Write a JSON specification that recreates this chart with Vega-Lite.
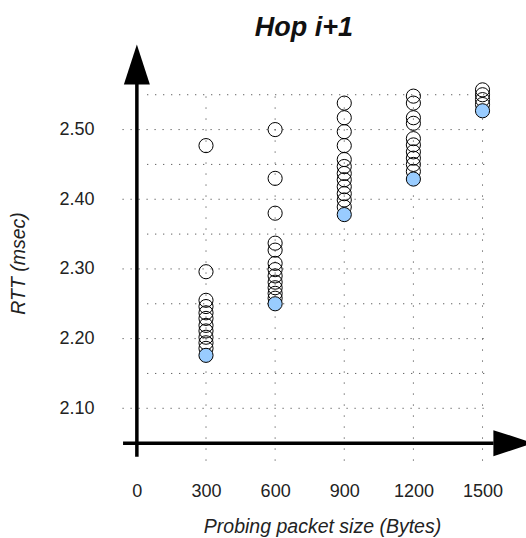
{
  "$schema": "https://vega.github.io/schema/vega-lite/v6.json",
  "width": 424,
  "height": 432,
  "autosize": {"type": "none"},
  "padding": {"left": 100, "top": 39, "right": 2, "bottom": 67},
  "title": {
    "text": "Hop i+1",
    "font": "Liberation Sans",
    "fontSize": 27,
    "fontWeight": "bold",
    "fontStyle": "italic",
    "color": "#111",
    "anchor": "middle",
    "frame": "group",
    "baseline": "alphabetic",
    "offset": -24,
    "dx": -8
  },
  "config": {
    "view": {"stroke": null},
    "font": "Liberation Sans"
  },
  "layer": [
    {
      "data": {"values": [{"x": 300}, {"x": 600}, {"x": 900}, {"x": 1200}, {"x": 1500}]},
      "mark": {"type": "rule", "color": "#333", "strokeWidth": 1, "strokeDash": [1, 10]},
      "encoding": {
        "x": {"field": "x", "type": "quantitative"},
        "y": {"datum": 2.025},
        "y2": {"datum": 2.56}
      }
    },
    {
      "data": {"values": [{"y": 2.1}, {"y": 2.2}, {"y": 2.3}, {"y": 2.4}, {"y": 2.5}]},
      "mark": {"type": "rule", "color": "#333", "strokeWidth": 1, "strokeDash": [1, 7]},
      "encoding": {
        "y": {"field": "y", "type": "quantitative"},
        "x": {"datum": -62},
        "x2": {"datum": 1515}
      }
    },
    {
      "data": {"values": [{"y": 2.15}, {"y": 2.25}, {"y": 2.35}, {"y": 2.45}, {"y": 2.55}]},
      "mark": {"type": "rule", "color": "#333", "strokeWidth": 1, "strokeDash": [1, 7]},
      "encoding": {
        "y": {"field": "y", "type": "quantitative"},
        "x": {"datum": 45},
        "x2": {"datum": 1515}
      }
    },
    {
      "data": {"values": [{}]},
      "mark": {"type": "rule", "color": "black", "strokeWidth": 3.5},
      "encoding": {
        "x": {"datum": 0},
        "y": {"datum": 2.0305},
        "y2": {"datum": 2.566}
      }
    },
    {
      "data": {"values": [{}]},
      "mark": {"type": "rule", "color": "black", "strokeWidth": 3.5},
      "encoding": {
        "y": {"datum": 2.05},
        "x": {"datum": -60},
        "x2": {"datum": 1548}
      }
    },
    {
      "data": {"values": [{}]},
      "mark": {"type": "point", "shape": "M0,-1L-0.65,1L0.65,1Z", "filled": true, "color": "black", "opacity": 1, "size": 1600},
      "encoding": {
        "x": {"datum": 0},
        "y": {"datum": 2.5935}
      }
    },
    {
      "data": {"values": [{}]},
      "mark": {"type": "point", "shape": "M1,0L-1,-0.65L-1,0.65Z", "filled": true, "color": "black", "opacity": 1, "size": 1600},
      "encoding": {
        "x": {"datum": 1634},
        "y": {"datum": 2.05}
      }
    },
    {
      "data": {
        "values": [
          {"size": 300, "rtt": 2.477, "kind": "other"},
          {"size": 300, "rtt": 2.296, "kind": "other"},
          {"size": 300, "rtt": 2.255, "kind": "other"},
          {"size": 300, "rtt": 2.246, "kind": "other"},
          {"size": 300, "rtt": 2.237, "kind": "other"},
          {"size": 300, "rtt": 2.229, "kind": "other"},
          {"size": 300, "rtt": 2.219, "kind": "other"},
          {"size": 300, "rtt": 2.211, "kind": "other"},
          {"size": 300, "rtt": 2.202, "kind": "other"},
          {"size": 300, "rtt": 2.194, "kind": "other"},
          {"size": 300, "rtt": 2.186, "kind": "other"},
          {"size": 600, "rtt": 2.5, "kind": "other"},
          {"size": 600, "rtt": 2.43, "kind": "other"},
          {"size": 600, "rtt": 2.38, "kind": "other"},
          {"size": 600, "rtt": 2.337, "kind": "other"},
          {"size": 600, "rtt": 2.327, "kind": "other"},
          {"size": 600, "rtt": 2.308, "kind": "other"},
          {"size": 600, "rtt": 2.299, "kind": "other"},
          {"size": 600, "rtt": 2.29, "kind": "other"},
          {"size": 600, "rtt": 2.281, "kind": "other"},
          {"size": 600, "rtt": 2.273, "kind": "other"},
          {"size": 600, "rtt": 2.265, "kind": "other"},
          {"size": 600, "rtt": 2.258, "kind": "other"},
          {"size": 900, "rtt": 2.538, "kind": "other"},
          {"size": 900, "rtt": 2.517, "kind": "other"},
          {"size": 900, "rtt": 2.497, "kind": "other"},
          {"size": 900, "rtt": 2.477, "kind": "other"},
          {"size": 900, "rtt": 2.457, "kind": "other"},
          {"size": 900, "rtt": 2.447, "kind": "other"},
          {"size": 900, "rtt": 2.437, "kind": "other"},
          {"size": 900, "rtt": 2.428, "kind": "other"},
          {"size": 900, "rtt": 2.418, "kind": "other"},
          {"size": 900, "rtt": 2.408, "kind": "other"},
          {"size": 900, "rtt": 2.399, "kind": "other"},
          {"size": 900, "rtt": 2.389, "kind": "other"},
          {"size": 1200, "rtt": 2.548, "kind": "other"},
          {"size": 1200, "rtt": 2.538, "kind": "other"},
          {"size": 1200, "rtt": 2.517, "kind": "other"},
          {"size": 1200, "rtt": 2.509, "kind": "other"},
          {"size": 1200, "rtt": 2.487, "kind": "other"},
          {"size": 1200, "rtt": 2.478, "kind": "other"},
          {"size": 1200, "rtt": 2.468, "kind": "other"},
          {"size": 1200, "rtt": 2.459, "kind": "other"},
          {"size": 1200, "rtt": 2.45, "kind": "other"},
          {"size": 1200, "rtt": 2.44, "kind": "other"},
          {"size": 1500, "rtt": 2.557, "kind": "other"},
          {"size": 1500, "rtt": 2.55, "kind": "other"},
          {"size": 1500, "rtt": 2.543, "kind": "other"},
          {"size": 1500, "rtt": 2.536, "kind": "other"},
          {"size": 300, "rtt": 2.176, "kind": "min"},
          {"size": 600, "rtt": 2.25, "kind": "min"},
          {"size": 900, "rtt": 2.378, "kind": "min"},
          {"size": 1200, "rtt": 2.429, "kind": "min"},
          {"size": 1500, "rtt": 2.527, "kind": "min"}
        ]
      },
      "mark": {"type": "point", "shape": "circle", "filled": true, "stroke": "black", "strokeWidth": 1, "size": 200, "opacity": 1},
      "encoding": {
        "x": {
          "field": "size",
          "type": "quantitative",
          "scale": {"domain": [-160, 1680], "nice": false, "zero": false},
          "axis": {
            "values": [0, 300, 600, 900, 1200, 1500],
            "format": "d",
            "domain": false,
            "ticks": false,
            "tickSize": 0,
            "grid": false,
            "labelPadding": 11,
            "labelFontSize": 18,
            "labelColor": "#222",
            "labelFont": "Liberation Sans",
            "title": "Probing packet size (Bytes)",
            "titleFont": "Liberation Sans",
            "titleFontSize": 19.5,
            "titleFontWeight": "normal",
            "titleFontStyle": "italic",
            "titleColor": "#222",
            "titleAlign": "center",
            "titleBaseline": "alphabetic",
            "titleX": 222,
            "titleY": 61
          }
        },
        "y": {
          "field": "rtt",
          "type": "quantitative",
          "scale": {"domain": [2.01, 2.63], "nice": false, "zero": false},
          "axis": {
            "values": [2.1, 2.2, 2.3, 2.4, 2.5],
            "format": ".2f",
            "domain": false,
            "ticks": false,
            "tickSize": 0,
            "grid": false,
            "labelPadding": 6,
            "labelFontSize": 18,
            "labelColor": "#222",
            "labelFont": "Liberation Sans",
            "title": "RTT (msec)",
            "titleFont": "Liberation Sans",
            "titleFontSize": 19.5,
            "titleFontWeight": "normal",
            "titleFontStyle": "italic",
            "titleColor": "#222",
            "titleAngle": -90,
            "titleAlign": "center",
            "titleBaseline": "alphabetic",
            "titleX": -76,
            "titleY": 224
          }
        },
        "fill": {
          "field": "kind",
          "type": "nominal",
          "scale": {"domain": ["other", "min"], "range": ["transparent", "#99ccff"]},
          "legend": null
        }
      }
    }
  ]
}
